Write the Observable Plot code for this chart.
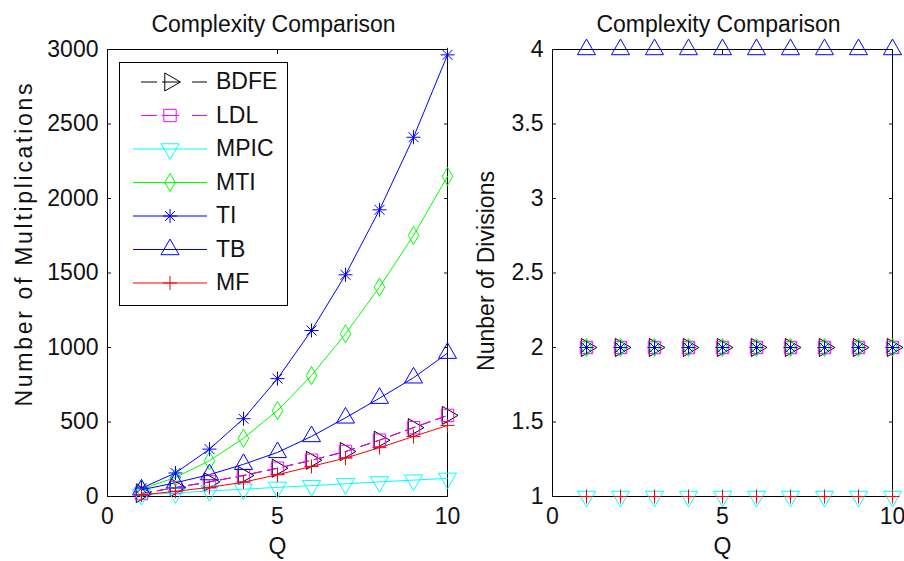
<!DOCTYPE html>
<html>
<head>
<meta charset="utf-8">
<script src="https://cdn.jsdelivr.net/npm/d3@7"></script>
<script src="https://cdn.jsdelivr.net/npm/@observablehq/plot@0.6"></script>
<style>
html, body { margin: 0; padding: 0; background: #fff; }
#wrap { display: flex; width: 904px; height: 561px; overflow: hidden; }
#wrap svg { display: block; flex: none; }
</style>
</head>
<body>
<div id="wrap"></div>
<script>
// ---------- data ----------
const Q = [1, 2, 3, 4, 5, 6, 7, 8, 9, 10];
const seriesNames = ["BDFE", "LDL", "MPIC", "MTI", "TI", "TB", "MF"];
const seriesColors = ["#000000", "#ff00ff", "#00ffff", "#00ff00", "#0000ff", "#0000ff", "#ff0000"];
const seriesDashed = [true, true, false, false, false, false, false];

// Number of multiplications (left panel)
const mulBDFE = [20, 60, 98, 141, 190, 243, 302, 378, 462, 544];
const mulLDL  = [20, 60, 98, 141, 190, 243, 302, 378, 462, 544];
const mulMPIC = [12, 24, 37, 49, 61, 73, 85, 98, 110, 122];
const mulMTI  = [50, 128, 240, 391, 577, 812, 1092, 1405, 1752, 2148];
const mulTI   = [56, 158, 318, 522, 791, 1114, 1488, 1924, 2411, 2964];
const mulTB   = [45, 92, 147, 216, 296, 403, 528, 660, 797, 962];
const mulMF   = [10, 35, 61, 96, 146, 202, 258, 328, 403, 477];

// Number of divisions (right panel)
const divBDFE = [2, 2, 2, 2, 2, 2, 2, 2, 2, 2];
const divLDL  = [2, 2, 2, 2, 2, 2, 2, 2, 2, 2];
const divMPIC = [1, 1, 1, 1, 1, 1, 1, 1, 1, 1];
const divMTI  = [2, 2, 2, 2, 2, 2, 2, 2, 2, 2];
const divTI   = [2, 2, 2, 2, 2, 2, 2, 2, 2, 2];
const divTB   = [4, 4, 4, 4, 4, 4, 4, 4, 4, 4];
const divMF   = [1, 1, 1, 1, 1, 1, 1, 1, 1, 1];

const xTicks = [0, 5, 10];
const yTicksMul = [0, 500, 1000, 1500, 2000, 2500, 3000];
const yTicksDiv = [1, 1.5, 2, 2.5, 3, 3.5, 4];

const titleText = "Complexity Comparison";
const xLabel = "Q";
const yLabelMul = "Number of Multiplications";
const yLabelDiv = "Nunber of Divisions";

// ---------- styling ----------
const FONT = "'Liberation Sans', Arial, Helvetica, sans-serif";
const FS = 23;
const markerSpecs = {
  BDFE: [{symbol: "triangle", rotate: 90, r: 6.7}],
  LDL:  [{symbol: "square", rotate: 0, r: 7}],
  MPIC: [{symbol: "triangle", rotate: 180, r: 6.7}],
  MTI:  [{symbol: "diamond", rotate: 0, r: 5.5}],
  TI:   [{symbol: "plus", rotate: 0, r: 4.6}, {symbol: "times", rotate: 0, r: 4.6}],
  TB:   [{symbol: "triangle", rotate: 0, r: 6.7}],
  MF:   [{symbol: "plus", rotate: 0, r: 4.6}]
};
const d3Symbols = {triangle: d3.symbolTriangle, square: d3.symbolSquare, diamond: d3.symbolDiamond, plus: d3.symbolPlus, times: d3.symbolTimes};

const mulSeries = [mulBDFE, mulLDL, mulMPIC, mulMTI, mulTI, mulTB, mulMF];
const divSeries = [divBDFE, divLDL, divMPIC, divMTI, divTI, divTB, divMF];

function buildTable(seriesArr) {
  const rows = [];
  seriesNames.forEach((name, si) => {
    Q.forEach((q, i) => rows.push({series: name, q, v: seriesArr[si][i]}));
  });
  return rows;
}
const mulData = buildTable(mulSeries);
const divData = buildTable(divSeries);

function axesMarks(yTicks) {
  return [
    Plot.frame({stroke: "black", strokeWidth: 1}),
    Plot.axisX({anchor: "bottom", ticks: xTicks, tickSize: -4, tickPadding: 15, tickFormat: d => String(d), label: null, fontSize: FS}),
    Plot.axisX({anchor: "top", ticks: xTicks, tickSize: -4, tickFormat: () => "", label: null}),
    Plot.axisY({anchor: "left", ticks: yTicks, tickSize: -4, tickPadding: 13, tickFormat: d => String(d), label: null, fontSize: FS}),
    Plot.axisY({anchor: "right", ticks: yTicks, tickSize: -4, tickFormat: () => "", label: null})
  ];
}

function seriesMarks(data, withLines) {
  const marks = [];
  seriesNames.forEach((name, si) => {
    const sub = data.filter(d => d.series === name);
    const color = seriesColors[si];
    if (withLines) {
      marks.push(Plot.line(sub, {x: "q", y: "v", stroke: color, strokeWidth: 1,
        strokeDasharray: seriesDashed[si] ? "10,6" : null}));
    }
    markerSpecs[name].forEach(m => {
      marks.push(Plot.dot(sub, {x: "q", y: "v", symbol: m.symbol, rotate: m.rotate, r: m.r,
        stroke: color, fill: "none", strokeWidth: 1}));
    });
  });
  return marks;
}

function labelMarks(yLabel, yLabelDx, yLabelOpts) {
  return [
    Plot.text([titleText], {text: d => d, frameAnchor: "top", lineAnchor: "middle", textAnchor: "middle", dy: -25, dx: -4, fontSize: FS, fill: "#111"}),
    Plot.text([xLabel], {text: d => d, frameAnchor: "bottom", lineAnchor: "middle", textAnchor: "middle", dy: 50, fontSize: FS, fill: "#111"}),
    Plot.text([yLabel], {text: d => d, frameAnchor: "left", lineAnchor: "middle", rotate: -90, dx: yLabelDx, fontSize: FS, fill: "#111", ...yLabelOpts})
  ];
}

// ---------- left panel ----------
const left = Plot.plot({
  width: 460, height: 561,
  marginLeft: 107, marginRight: 13, marginTop: 49, marginBottom: 65,
  style: {fontFamily: FONT, fontSize: FS + "px", color: "#111", background: "white", overflow: "visible"},
  x: {domain: [0, 10]},
  y: {domain: [0, 3000]},
  marks: [
    ...axesMarks(yTicksMul),
    ...seriesMarks(mulData, true),
    ...labelMarks(yLabelMul, -83, {textAnchor: "start", dy: 133.5})
  ]
});

// ---------- right panel ----------
const right = Plot.plot({
  width: 444, height: 561,
  marginLeft: 92, marginRight: 12, marginTop: 49, marginBottom: 65,
  style: {fontFamily: FONT, fontSize: FS + "px", color: "#111", background: "white", overflow: "visible"},
  x: {domain: [0, 10]},
  y: {domain: [1, 4]},
  marks: [
    ...axesMarks(yTicksDiv),
    ...seriesMarks(divData, false),
    ...labelMarks(yLabelDiv, -66, {textAnchor: "middle", dy: -2})
  ]
});

const wrap = document.getElementById("wrap");
wrap.appendChild(left);
wrap.appendChild(right);

// stretch the y labels to the widths seen in the reference
d3.select(left).selectAll("text").filter(function() { return this.textContent === yLabelMul; })
  .attr("textLength", 323).attr("lengthAdjust", "spacing");
d3.select(right).selectAll("text").filter(function() { return this.textContent === yLabelDiv; })
  .attr("textLength", 200).attr("lengthAdjust", "spacing");

// ---------- legend (left panel) ----------
const lg = d3.select(left).append("g").attr("class", "legend");
lg.append("rect").attr("x", 119.5).attr("y", 62.5).attr("width", 168).attr("height", 243)
  .attr("fill", "white").attr("stroke", "black").attr("stroke-width", 1);
seriesNames.forEach((name, i) => {
  const cy = 82 + i * 33.5;
  const color = seriesColors[i];
  const segs = seriesDashed[i] ? [[141, 157], [162, 179], [192, 207]] : [[133, 207]];
  segs.forEach(([a, b]) => {
    lg.append("line").attr("x1", a).attr("x2", b).attr("y1", cy).attr("y2", cy)
      .attr("stroke", color).attr("stroke-width", 1);
  });
  markerSpecs[name].forEach(m => {
    lg.append("path")
      .attr("d", d3.symbol(d3Symbols[m.symbol], Math.PI * m.r * m.r)())
      .attr("transform", `translate(170,${cy}) rotate(${m.rotate})`)
      .attr("fill", "none").attr("stroke", color).attr("stroke-width", 1);
  });
  lg.append("text").attr("x", 216).attr("y", cy).attr("dy", "0.32em")
    .attr("text-anchor", "start")
    .attr("font-family", FONT).attr("font-size", FS).attr("fill", "#111").text(name);
});
</script>
</body>
</html>
